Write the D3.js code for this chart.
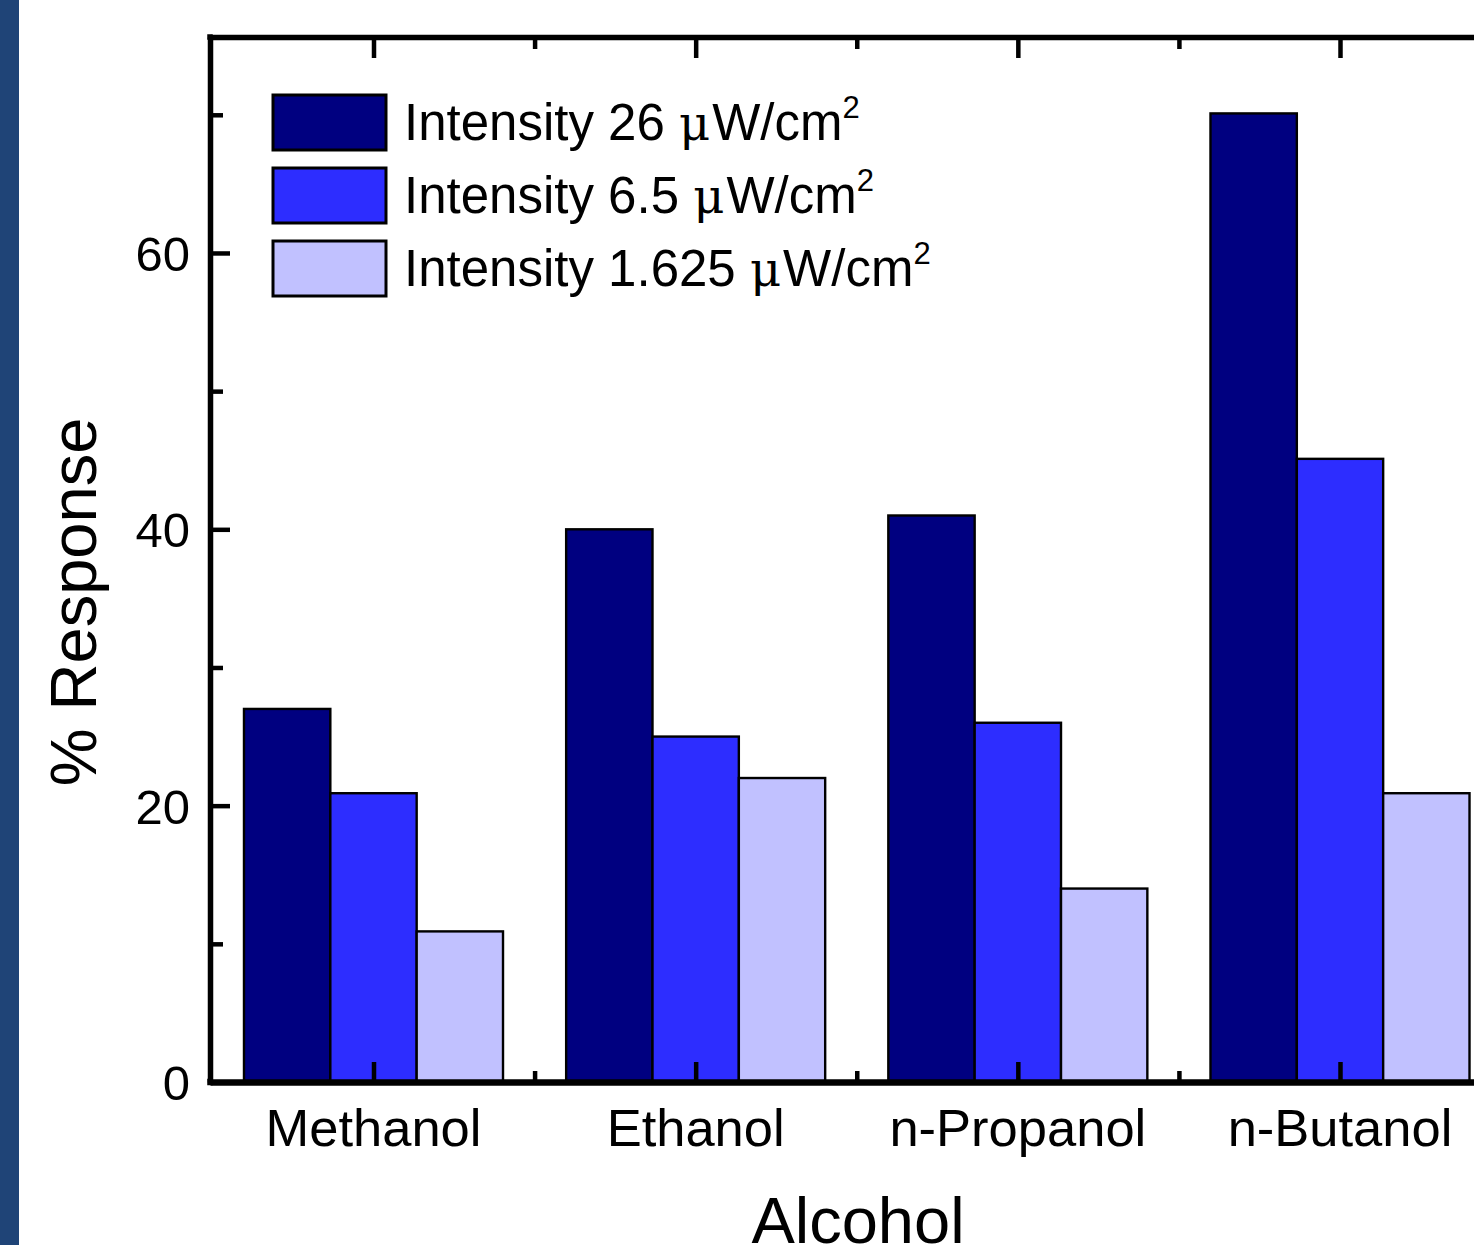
<!DOCTYPE html>
<html><head><meta charset="utf-8">
<script src="https://cdn.jsdelivr.net/npm/d3@7"></script>
<style>body{margin:0;background:#fff;overflow:hidden}svg{display:block}</style>
</head><body>
<svg id="c" width="1474" height="1245"></svg>
<script>
const categories = ["Methanol", "Ethanol", "n-Propanol", "n-Butanol"];
const seriesLabels = ["26", "6.5", "1.625"];
const intensity26 = [27, 40, 41, 70.1];
const intensity6_5 = [20.9, 25, 26, 45.1];
const intensity1_625 = [10.9, 22, 14, 20.9];
const yMajorTicks = [0, 20, 40, 60];
const yMinorTicks = [10, 30, 50, 70];
const xMinorTicks = [1.5, 2.5, 3.5];
const colors = ["#000080", "#2d2dff", "#c1c1ff"];

(function () {
const series = [intensity26, intensity6_5, intensity1_625];
const svg = d3.select("#c");
const font = "'Liberation Sans', Arial, sans-serif";

// left dark strip
svg.append("rect").attr("x", 0).attr("y", 0).attr("width", 19).attr("height", 1245).attr("fill", "#1f4477");

const pL = 210, pR = 1500, pT = 37, pB = 1082;
const x = d3.scaleLinear().domain([1, 4]).range([373.5, 1340]);
const y = d3.scaleLinear().domain([0, 75.63]).range([pB, pT]);
const step = x(2) - x(1);
const bw = step * 0.268;

// bars
series.forEach((vals, si) => {
  svg.append("g").selectAll("rect").data(vals).join("rect")
    .attr("x", (d, i) => x(i + 1) + (si - 1.5) * bw)
    .attr("y", d => y(d))
    .attr("width", bw)
    .attr("height", d => y(0) - y(d))
    .attr("fill", colors[si])
    .attr("stroke", "#000")
    .attr("stroke-width", 2.4);
});

function styleAxis(g) {
  g.select(".domain").attr("stroke", "#000").attr("stroke-width", 5.5);
  g.selectAll(".tick line").attr("stroke", "#000").attr("stroke-width", 4.5);
}
function minor(g) {
  g.select(".domain").remove();
  g.selectAll(".tick line").attr("stroke", "#000").attr("stroke-width", 4.5);
}

// y axis major
const gy = svg.append("g").attr("transform", `translate(${pL},0)`)
  .call(d3.axisLeft(y).tickValues(yMajorTicks).tickSizeInner(-20).tickSizeOuter(0).tickPadding(20).tickFormat(d3.format("d")));
styleAxis(gy);
gy.selectAll(".tick text").attr("font-family", font).attr("font-size", 49).attr("fill", "#000").attr("dy", "0.36em");
svg.append("g").attr("transform", `translate(${pL},0)`)
  .call(d3.axisLeft(y).tickValues(yMinorTicks).tickSizeInner(-13).tickSizeOuter(0).tickFormat(""))
  .call(minor);

// right axis (off canvas mostly)
const gr = svg.append("g").attr("transform", `translate(${pR},0)`)
  .call(d3.axisRight(y).tickValues(yMajorTicks).tickSizeInner(-20).tickSizeOuter(0).tickFormat(""));
styleAxis(gr);

const xAxisScale = x.copy().domain([0.5, 4.5]).range([pL, pR]);
// bottom axis line + ticks
const gx = svg.append("g").attr("transform", `translate(0,${pB})`)
  .call(d3.axisBottom(xAxisScale).tickValues([]).tickSizeOuter(0));
styleAxis(gx);
gx.select(".domain").attr("stroke-width", 6.5);
svg.append("g").attr("transform", `translate(0,${pB})`)
  .call(d3.axisBottom(x).tickValues([1, 2, 3, 4]).tickSizeInner(-20).tickSizeOuter(0).tickFormat(""))
  .call(minor);
svg.append("g").attr("transform", `translate(0,${pB})`)
  .call(d3.axisBottom(x).tickValues(xMinorTicks).tickSizeInner(-11).tickSizeOuter(0).tickFormat(""))
  .call(minor);

// category labels
svg.append("g").selectAll("text").data(categories).join("text")
  .attr("x", (d, i) => x(i + 1)).attr("y", 1146)
  .attr("text-anchor", "middle").attr("font-family", font).attr("font-size", 52.5).attr("fill", "#000")
  .text(d => d);

// top axis
const gt = svg.append("g").attr("transform", `translate(0,${pT})`)
  .call(d3.axisTop(xAxisScale).tickValues([]).tickSizeOuter(0));
styleAxis(gt);
svg.append("g").attr("transform", `translate(0,${pT})`)
  .call(d3.axisTop(x).tickValues([1, 2, 3, 4]).tickSizeInner(-21).tickSizeOuter(0).tickFormat(""))
  .call(minor);
svg.append("g").attr("transform", `translate(0,${pT})`)
  .call(d3.axisTop(x).tickValues(xMinorTicks).tickSizeInner(-12).tickSizeOuter(0).tickFormat(""))
  .call(minor);

// corner fix
svg.append("rect").attr("x", pL - 2.75).attr("y", pT - 2.75).attr("width", 5.5).attr("height", 5.5).attr("fill", "#000");
svg.append("rect").attr("x", pL - 2.75).attr("y", pB - 3.25).attr("width", 5.5).attr("height", 6.5).attr("fill", "#000");

// axis titles
svg.append("text").attr("transform", "translate(96,602) rotate(-90)")
  .attr("text-anchor", "middle").attr("font-family", font).attr("font-size", 65).attr("fill", "#000")
  .text("% Response");
svg.append("text").attr("x", 858).attr("y", 1243)
  .attr("text-anchor", "middle").attr("font-family", font).attr("font-size", 65).attr("fill", "#000")
  .text("Alcohol");

// legend
const lg = svg.append("g");
const rowY = [95, 168, 241];
seriesLabels.forEach((lab, i) => {
  lg.append("rect").attr("x", 273).attr("y", rowY[i]).attr("width", 113).attr("height", 55)
    .attr("fill", colors[i]).attr("stroke", "#000").attr("stroke-width", 3);
  const t = lg.append("text").attr("x", 404).attr("y", rowY[i] + 45)
    .attr("font-family", font).attr("font-size", 51).attr("fill", "#000");
  t.append("tspan").text(`Intensity ${lab} `);
  t.append("tspan").attr("font-family", "'DejaVu Serif', 'Liberation Serif', serif").attr("font-size", 48).text("\u03BC");
  t.append("tspan").attr("dx", 2).text("W/cm");
  t.append("tspan").attr("font-size", 31).attr("dy", -22).text("2");
});
})();
</script>
</body></html>
